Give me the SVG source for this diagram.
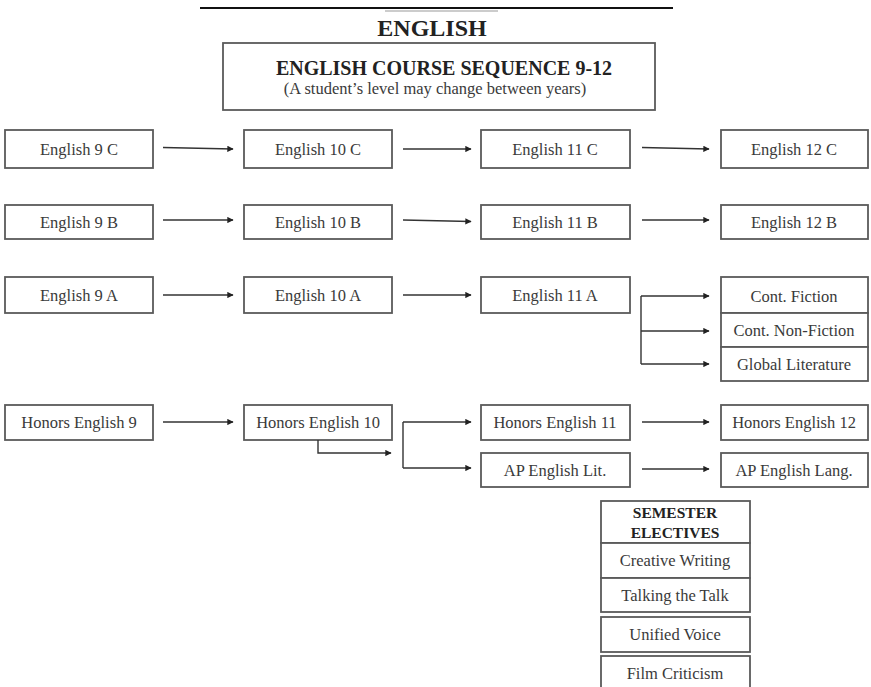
<svg xmlns="http://www.w3.org/2000/svg" width="871" height="687" viewBox="0 0 871 687">
  <style>
    .box { fill: #fff; stroke: #5a5a5a; stroke-width: 1.8; }
    .lbl { font-family: "Liberation Serif", "Times New Roman", serif; font-size: 16.5px; fill: #3a3a3a; text-anchor: middle; }
    .hd { font-family: "Liberation Serif", "Times New Roman", serif; font-weight: bold; fill: #222; text-anchor: middle; }
    .ln { fill: none; stroke: #333; stroke-width: 1.4; }
    .arr { fill: none; stroke: #333; stroke-width: 1.4; marker-end: url(#head); }
  </style>
  <defs>
    <marker id="head" viewBox="0 0 10 10" refX="9" refY="5" markerWidth="6" markerHeight="4.5" markerUnits="strokeWidth" orient="auto">
      <path d="M0,0 L10,5 L0,10 Z" fill="#222"/>
    </marker>
  </defs>
  <rect width="871" height="687" fill="#fff"/>

  <!-- page header -->
  <g id="header">
    <line x1="200" y1="8" x2="673" y2="8" stroke="#111" stroke-width="2.2"/>
    <line x1="385" y1="11" x2="498" y2="11" stroke="#999" stroke-width="1.2"/>
    <text class="hd" x="432" y="36" font-size="24">ENGLISH</text>
  </g>

  <g id="title">
    <rect class="box" x="223" y="43" width="432" height="67"/>
    <text class="hd" x="444" y="75" font-size="20">ENGLISH COURSE SEQUENCE 9-12</text>
    <text class="lbl" x="435" y="94" font-size="15.2">(A student’s level may change between years)</text>
  </g>

  <!-- C track -->
  <g id="eng9c"><rect class="box" x="5" y="130" width="148" height="38"/><text class="lbl" x="79" y="155">English 9 C</text></g>
  <g id="eng10c"><rect class="box" x="244" y="130" width="148" height="38"/><text class="lbl" x="318" y="155">English 10 C</text></g>
  <g id="eng11c"><rect class="box" x="481" y="130" width="149" height="38"/><text class="lbl" x="555" y="155">English 11 C</text></g>
  <g id="eng12c"><rect class="box" x="721" y="130" width="147" height="38"/><text class="lbl" x="794" y="155">English 12 C</text></g>

  <!-- B track -->
  <g id="eng9b"><rect class="box" x="5" y="205" width="148" height="34"/><text class="lbl" x="79" y="228">English 9 B</text></g>
  <g id="eng10b"><rect class="box" x="244" y="205" width="148" height="34"/><text class="lbl" x="318" y="228">English 10 B</text></g>
  <g id="eng11b"><rect class="box" x="481" y="205" width="149" height="34"/><text class="lbl" x="555" y="228">English 11 B</text></g>
  <g id="eng12b"><rect class="box" x="721" y="205" width="147" height="34"/><text class="lbl" x="794" y="228">English 12 B</text></g>

  <!-- A track -->
  <g id="eng9a"><rect class="box" x="5" y="277" width="148" height="36"/><text class="lbl" x="79" y="301">English 9 A</text></g>
  <g id="eng10a"><rect class="box" x="244" y="277" width="148" height="36"/><text class="lbl" x="318" y="301">English 10 A</text></g>
  <g id="eng11a"><rect class="box" x="481" y="277" width="149" height="36"/><text class="lbl" x="555" y="301">English 11 A</text></g>
  <g id="contfiction"><rect class="box" x="721" y="277" width="147" height="36"/><text class="lbl" x="794" y="302">Cont. Fiction</text></g>
  <g id="contnonfiction"><rect class="box" x="721" y="313" width="147" height="34"/><text class="lbl" x="794" y="336">Cont. Non-Fiction</text></g>
  <g id="globallit"><rect class="box" x="721" y="347" width="147" height="34"/><text class="lbl" x="794" y="370">Global Literature</text></g>

  <!-- Honors track -->
  <g id="hon9"><rect class="box" x="5" y="405" width="148" height="35"/><text class="lbl" x="79" y="428">Honors English 9</text></g>
  <g id="hon10"><rect class="box" x="244" y="405" width="148" height="35"/><text class="lbl" x="318" y="428">Honors English 10</text></g>
  <g id="hon11"><rect class="box" x="481" y="405" width="149" height="35"/><text class="lbl" x="555" y="428">Honors English 11</text></g>
  <g id="hon12"><rect class="box" x="721" y="405" width="147" height="35"/><text class="lbl" x="794" y="428">Honors English 12</text></g>
  <g id="aplit"><rect class="box" x="481" y="453" width="149" height="34"/><text class="lbl" x="555" y="476">AP English Lit.</text></g>
  <g id="aplang"><rect class="box" x="721" y="453" width="147" height="34"/><text class="lbl" x="794" y="476">AP English Lang.</text></g>

  <!-- semester electives -->
  <g id="electives">
    <rect class="box" x="601" y="501" width="149" height="42"/>
    <text class="hd" x="675" y="518" font-size="15.5">SEMESTER</text>
    <text class="hd" x="675" y="538" font-size="15.5">ELECTIVES</text>
  </g>
  <g id="creativewriting"><rect class="box" x="601" y="543" width="149" height="35"/><text class="lbl" x="675" y="566">Creative Writing</text></g>
  <g id="talkingthetalk"><rect class="box" x="601" y="578" width="149" height="34"/><text class="lbl" x="675" y="601">Talking the Talk</text></g>
  <g id="unifiedvoice"><rect class="box" x="601" y="617" width="149" height="35"/><text class="lbl" x="675" y="640">Unified Voice</text></g>
  <g id="filmcriticism"><rect class="box" x="601" y="656" width="149" height="45"/><text class="lbl" x="675" y="679">Film Criticism</text></g>

  <!-- connectors -->
  <g id="connectors">
    <path class="arr" d="M163,147.5 L233,149"/>
    <path class="arr" d="M403,149 L471,149"/>
    <path class="arr" d="M642,147.5 L709,149"/>

    <path class="arr" d="M163,220 L233,220"/>
    <path class="arr" d="M403,220 L471,221.5"/>
    <path class="arr" d="M642,220 L709,220"/>

    <path class="arr" d="M163,295 L233,295"/>
    <path class="arr" d="M403,295 L471,295"/>
    <path class="ln" d="M641,296 L641,364"/>
    <path class="arr" d="M641,296 L709,296"/>
    <path class="arr" d="M641,331 L709,331"/>
    <path class="arr" d="M641,364 L709,364"/>

    <path class="arr" d="M163,422 L233,422"/>
    <path class="arr" d="M318,440 L318,453 L391,453"/>
    <path class="ln" d="M403,422 L403,468"/>
    <path class="arr" d="M403,422 L471,422"/>
    <path class="arr" d="M403,468 L471,468"/>
    <path class="arr" d="M642,422 L709,422"/>
    <path class="arr" d="M642,469 L709,469"/>
  </g>
</svg>
